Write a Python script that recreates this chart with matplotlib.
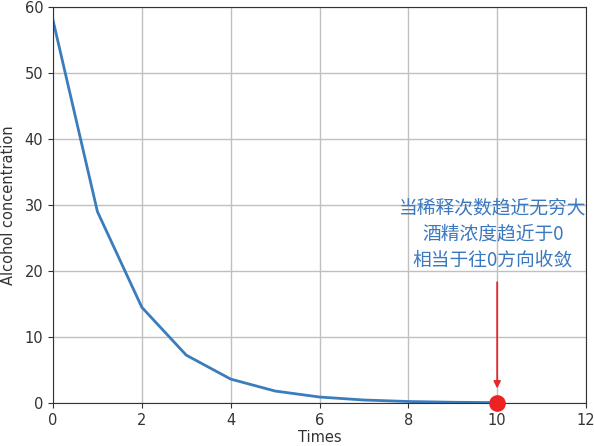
import matplotlib
matplotlib.use("Agg")
import matplotlib.pyplot as plt

times = [0, 1, 2, 3, 4, 5, 6, 7, 8, 9, 10]
concentration = [58, 29, 14.5, 7.25, 3.625, 1.8125, 0.906, 0.453, 0.227, 0.113, 0.057]
limit_point = (10, 0)
note = "当稀释次数趋近无穷大\n酒精浓度趋近于0\n相当于往0方向收敛"

plt.rcParams['font.family'] = ['DejaVu Sans']
fig = plt.figure(figsize=(5.94, 4.46), dpi=100)
ax = fig.add_axes([53/594, 1-403/446, (586-53)/594, (403-7)/446])

ax.plot(times, concentration, color='#3a7cbc', lw=2)
ax.plot([limit_point[0]], [limit_point[1]], 'o', color='#ee2222', ms=11, clip_on=False, zorder=5)

ax.set_xlim(0, 12)
ax.set_ylim(0, 60)
ax.set_xticks(range(0, 13, 2))
ax.set_yticks(range(0, 61, 10))
ax.grid(True, color='#c0c0c0', lw=1)
ax.set_axisbelow(True)
for s in ax.spines.values():
    s.set_color('#333333')
ax.tick_params(colors='#333333', labelsize=10.5)
ax.set_xlabel('Times', fontsize=10.5, color='#333333', labelpad=2)
ax.set_ylabel('Alcohol concentration', fontsize=10.5, color='#333333', labelpad=6)

ax.text(9.9, 25.6, note, ha='center', va='center', color='#3a78c0', fontsize=13.5,
        family=['Noto Sans CJK SC', 'DejaVu Sans'], linespacing=1.3)
ax.annotate('', xy=(10, 2.2), xytext=(10, 18.3),
            arrowprops=dict(arrowstyle='-|>', color='#e8262b', lw=1.3, mutation_scale=10,
                            shrinkA=0, shrinkB=0))

fig.savefig('out.png', dpi=100)
